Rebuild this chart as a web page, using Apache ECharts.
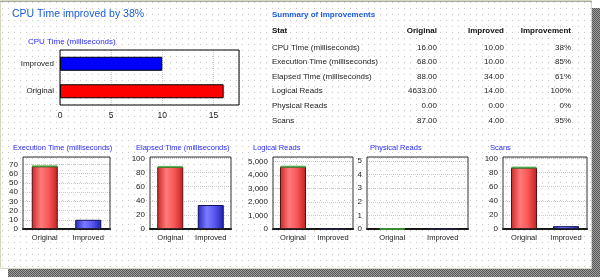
<!DOCTYPE html>
<html>
<head>
<meta charset="utf-8">
<script src="https://cdn.jsdelivr.net/npm/echarts@6/dist/echarts.min.js"></script>
<style>
  html, body { margin: 0; padding: 0; background: #fff; }
  #main { width: 600px; height: 277px; }
</style>
</head>
<body>
<div id="main"></div>
<script>
const categories = ["Original", "Improved"];
const stats = [
  "CPU Time (milliseconds)",
  "Execution Time (milliseconds)",
  "Elapsed Time (milliseconds)",
  "Logical Reads",
  "Physical Reads",
  "Scans",
];
const originalValues = [16, 68, 88, 4633, 0, 87];
const improvedValues = [10, 10, 34, 14, 0, 4];
const improvementPct = ["38%", "85%", "61%", "100%", "0%", "95%"];
const tableHeader = ["Stat", "Original", "Improved", "Improvement"];

// axis ranges for the charts (same order as stats)
const axisMax = [17.5, 78, 102, 5350, 5.3, 102];
const axisInterval = [5, 10, 20, 1000, 1, 20];

// layout of the small charts
const smallLayout = [
  { left: 23, width: 87, titleX: 13 },
  { left: 150, width: 81, titleX: 136 },
  { left: 273, width: 80, titleX: 253 },
  { left: 367, width: 101, titleX: 370 },
  { left: 503, width: 84, titleX: 490 },
];

const FONT = "Liberation Sans";
const chart = echarts.init(document.getElementById("main"));

// dotted background pattern
const pat = document.createElement("canvas");
pat.width = 6; pat.height = 6;
const pc = pat.getContext("2d");
pc.fillStyle = "#ffffff"; pc.fillRect(0, 0, 6, 6);
pc.fillStyle = "#c8c8c8"; pc.fillRect(2, 2, 1, 1);

const shadowPat = document.createElement("canvas");
shadowPat.width = 2; shadowPat.height = 2;
const sc = shadowPat.getContext("2d");
sc.fillStyle = "#9a9a9a"; sc.fillRect(0, 0, 2, 2);
sc.fillStyle = "#5a5a5a"; sc.fillRect(0, 0, 1, 1); sc.fillRect(1, 1, 1, 1);

const redGrad = new echarts.graphic.LinearGradient(0, 0, 1, 0, [
  { offset: 0, color: "#c82828" },
  { offset: 0.35, color: "#ff7a7a" },
  { offset: 0.65, color: "#f85858" },
  { offset: 1, color: "#c02020" },
]);
const blueGrad = new echarts.graphic.LinearGradient(0, 0, 1, 0, [
  { offset: 0, color: "#2828c0" },
  { offset: 0.35, color: "#7a7aff" },
  { offset: 0.65, color: "#5858f0" },
  { offset: 1, color: "#2020b0" },
]);

const grids = [{ left: 60, top: 50, width: 179, height: 55, show: true, borderColor: "#000", borderWidth: 1, z: 3 }];
const xAxes = [{
  gridIndex: 0, type: "value", min: 0, max: axisMax[0], interval: axisInterval[0],
  axisLine: { show: false }, axisTick: { show: false },
  splitLine: { lineStyle: { color: "#c8c8c8", type: "dotted" } },
  axisLabel: { fontSize: 8.5, fontFamily: FONT, color: "#222", margin: 6, showMaxLabel: false },
}];
const yAxes = [{
  gridIndex: 0, type: "category", data: categories,
  axisLine: { show: false }, axisTick: { show: false },
  axisLabel: { fontSize: 8, fontFamily: FONT, color: "#222", margin: 6 },
}];
const series = [{
  type: "bar", xAxisIndex: 0, yAxisIndex: 0, barWidth: 14,
  data: [originalValues[0], improvedValues[0]].map((v, i) => ({
    value: v,
    itemStyle: { color: i === 0 ? "#ff0000" : "#0000ff", borderColor: "#000", borderWidth: 1 },
  })),
}];
const titles = [
  { text: "CPU Time improved by 38%", left: 12, top: 9, padding: 0, textStyle: { fontSize: 10.5, fontWeight: "normal", fontFamily: FONT, color: "#1a5ce0" } },
  { text: stats[0], left: 28, top: 38, padding: 0, textStyle: { fontSize: 8, fontWeight: "normal", fontFamily: FONT, color: "#2a2aff" } },
];

smallLayout.forEach((l, k) => {
  const i = k + 1;
  grids.push({ left: l.left, top: 157, width: l.width, height: 72, show: true, borderColor: "#333", borderWidth: 1, z: 3 });
  xAxes.push({
    gridIndex: i, type: "category", data: categories,
    axisLine: { lineStyle: { color: "#000", width: 2 } }, axisTick: { show: false },
    axisLabel: { interval: 0, fontSize: 7.5, fontFamily: FONT, color: "#222", margin: 5 },
  });
  yAxes.push({
    gridIndex: i, type: "value", min: 0, max: axisMax[i], interval: axisInterval[i],
    axisLine: { show: false }, axisTick: { show: false },
    splitLine: { lineStyle: { color: "#c8c8c8", type: "dotted" } },
    axisLabel: {
      fontSize: 8, fontFamily: FONT, color: "#222", margin: 5, showMaxLabel: false,
      formatter: (v) => v.toLocaleString("en-US"),
    },
  });
  series.push({
    type: "bar", xAxisIndex: i, yAxisIndex: i, barWidth: 26,
    data: [originalValues[i], improvedValues[i]].map((v, j) => ({
      value: v,
      itemStyle: { color: j === 0 ? redGrad : blueGrad, borderColor: j === 0 ? "#5a1010" : "#10105a", borderWidth: 1 },
    })),
  });
  series.push({
    type: "scatter", xAxisIndex: i, yAxisIndex: i, symbol: "rect", symbolSize: [25, 2], z: 5,
    silent: true,
    data: [originalValues[i], "-"],
    itemStyle: { color: "#3aa83a" },
  });
  titles.push({ text: stats[i], left: l.titleX, top: 144, padding: 0, textStyle: { fontSize: 7.5, fontWeight: "normal", fontFamily: FONT, color: "#2a2aff" } });
});

// frame and summary table
const graphics = [
  { type: "rect", shape: { x: 8, y: 8, width: 592, height: 269 }, style: { fill: { image: shadowPat, repeat: "repeat" } }, z: -10 },
  { type: "rect", shape: { x: 0.5, y: 0.5, width: 591, height: 268 }, style: { fill: { image: pat, repeat: "repeat" }, stroke: "#d8d8c0", lineWidth: 1 }, z: -9 },
  { type: "line", shape: { x1: 0, y1: 1.5, x2: 592, y2: 1.5 }, style: { stroke: "#a8a8a8", lineWidth: 1 }, z: -8 },
  { type: "text", x: 272, y: 11, style: { text: "Summary of Improvements", font: "bold 8px " + FONT, fill: "#1a5ce0" } },
];
const colRight = [437, 504, 571];
const rowY = [48, 62, 77, 91, 106, 121];
tableHeader.forEach((h, c) => {
  graphics.push({
    type: "text", x: c === 0 ? 272 : colRight[c - 1], y: 31,
    style: { text: h, font: "bold 8px " + FONT, fill: "#111", align: c === 0 ? "left" : "right", verticalAlign: "middle" },
  });
});
stats.forEach((s, r) => {
  const cells = [s, originalValues[r].toFixed(2), improvedValues[r].toFixed(2), improvementPct[r]];
  cells.forEach((t, c) => {
    graphics.push({
      type: "text", x: c === 0 ? 272 : colRight[c - 1], y: rowY[r],
      style: { text: t, font: "8px " + FONT, fill: "#222", align: c === 0 ? "left" : "right", verticalAlign: "middle" },
    });
  });
});

chart.setOption({
  animation: false,
  title: titles,
  grid: grids,
  xAxis: xAxes,
  yAxis: yAxes,
  series: series,
  graphic: graphics,
});
window.addEventListener("resize", () => chart.resize());
</script>
</body>
</html>
